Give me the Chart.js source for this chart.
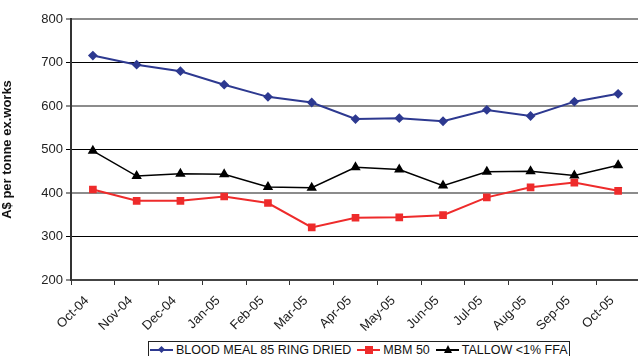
<!DOCTYPE html>
<html>
<head>
<meta charset="utf-8">
<script src="https://cdn.jsdelivr.net/npm/chart.js@4/dist/chart.umd.min.js"></script>
<style>
  html, body { margin: 0; padding: 0; background: #fff; }
  #wrap { position: relative; width: 638px; height: 356px; overflow: hidden; }
  #holder { position: absolute; left: 0; top: 0; width: 646px; height: 336px; }
  #legend {
    position: absolute; left: 148px; top: 341px; width: 422px; height: 20px;
    border: 1px solid #222; box-sizing: border-box; background: #fff;
    font: 12.5px "Liberation Sans", Arial, sans-serif; color: #111;
    display: flex; align-items: flex-start; padding: 1px 0 0 1px; white-space: nowrap;
  }
  .item { display: flex; align-items: center; margin-right: 6px; height: 14px; }
  .sw { position: relative; width: 23px; height: 14px; margin-right: 3px; }
  .sw .ln { position: absolute; left: 0; right: 0; top: 6px; height: 2px; }
  .sw .mk { position: absolute; }
</style>
</head>
<body>
<div id="wrap">
  <div id="holder"><canvas id="grafico"></canvas></div>
  <div id="legend">
    <div class="item"><span class="sw"><span class="ln" style="background:#2d3990"></span><span class="mk" style="left:9px;top:4px;width:5px;height:5px;background:#2d3990;transform:rotate(45deg)"></span></span>BLOOD MEAL 85 RING DRIED</div>
    <div class="item"><span class="sw"><span class="ln" style="background:#ee2b2b"></span><span class="mk" style="left:8px;top:3px;width:8px;height:8px;background:#ee2b2b"></span></span>MBM 50</div>
    <div class="item"><span class="sw"><span class="ln" style="background:#000"></span><span class="mk" style="left:8px;top:2px;width:0;height:0;border-left:4px solid transparent;border-right:4px solid transparent;border-bottom:8px solid #000"></span></span>TALLOW &lt;1% FFA</div>
  </div>
</div>
<script>
// meses
const categorias = ['Oct-04', 'Nov-04', 'Dec-04', 'Jan-05', 'Feb-05', 'Mar-05', 'Apr-05',
                    'May-05', 'Jun-05', 'Jul-05', 'Aug-05', 'Sep-05', 'Oct-05'];

// A$ por tonelada
const bloodMeal = [716, 695, 680, 649, 621, 608, 570, 572, 565, 591, 577, 610, 628];
const mbm50     = [408, 382, 382, 392, 377, 321, 343, 344, 349, 390, 413, 424, 405];
const tallow    = [497, 439, 444, 443, 414, 412, 459, 454, 417, 449, 450, 440, 464];

const yTicks = [200, 300, 400, 500, 600, 700, 800];

const fonte = { family: '"Liberation Sans", Arial, sans-serif', size: 13 };

new Chart(document.getElementById('grafico').getContext('2d'), {
    type: 'line',
    data: {
        labels: categorias,
        datasets: [
            {
                label: 'BLOOD MEAL 85 RING DRIED',
                data: bloodMeal,
                borderColor: '#2d3990',
                backgroundColor: '#2d3990',
                borderWidth: 2,
                pointStyle: 'rectRot',
                pointRadius: 3.5,
                tension: 0
            },
            {
                label: 'MBM 50',
                data: mbm50,
                borderColor: '#ee2b2b',
                backgroundColor: '#ee2b2b',
                borderWidth: 2,
                pointStyle: 'rect',
                pointRadius: 4,
                tension: 0
            },
            {
                label: 'TALLOW <1% FFA',
                data: tallow,
                borderColor: '#000',
                backgroundColor: '#000',
                borderWidth: 1.5,
                pointStyle: 'triangle',
                pointRadius: 4.5,
                tension: 0
            }
        ]
    },
    options: {
        responsive: true,
        maintainAspectRatio: false,
        animation: false,
        layout: { padding: { top: 19, right: 0, left: 0, bottom: 0 } },
        plugins: { legend: { display: false }, tooltip: { enabled: false } },
        scales: {
            x: {
                offset: true,
                afterFit: s => { s.height = 56; },
                grid: {
                    display: true,
                    drawOnChartArea: false,
                    drawTicks: true,
                    tickLength: 5,
                    offset: true,
                    color: '#333'
                },
                border: { color: '#444', width: 2 },
                ticks: {
                    font: fonte,
                    color: '#222',
                    minRotation: 45,
                    maxRotation: 45,
                    autoSkip: false,
                    padding: 8,
                    labelOffset: -6
                }
            },
            y: {
                min: 200,
                max: 800,
                afterBuildTicks: s => { s.ticks = yTicks.map(v => ({ value: v })); },
                afterFit: s => { s.width = 71; },
                grid: {
                    color: ctx => (ctx.index % 2 === 0 ? '#8c8c8c' : '#000'),
                    lineWidth: ctx => (ctx.index % 2 === 0 ? 2 : 1),
                    tickLength: 5
                },
                border: { color: '#333', width: 2 },
                ticks: { font: fonte, color: '#222', padding: 3 },
                title: {
                    display: true,
                    text: 'A$ per tonne ex.works',
                    font: { family: fonte.family, size: 13, weight: 'bold' },
                    color: '#111',
                    padding: { top: 0, bottom: 6 }
                }
            }
        }
    }
});
</script>
</body>
</html>
